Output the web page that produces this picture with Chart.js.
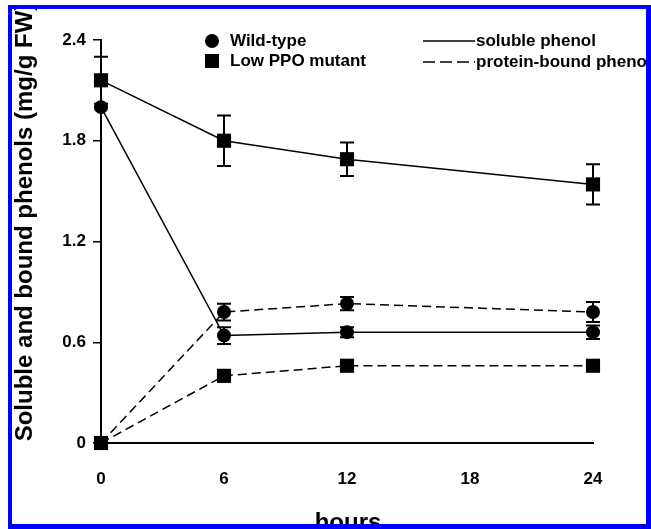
<!DOCTYPE html>
<html>
<head>
<meta charset="utf-8">
<script src="https://cdn.jsdelivr.net/npm/chart.js@4"></script>
<style>
  html, body { margin: 0; padding: 0; background: #fff; }
  #wrap { width: 651px; height: 529px; }
</style>
</head>
<body>
<div id="wrap"><canvas id="chart" width="651" height="529"></canvas></div>
<script>
// hours after treatment
var hours = [0, 6, 12, 24];
var xTicks = [0, 6, 12, 18, 24];
var yTicks = [0, 0.6, 1.2, 1.8, 2.4];

// soluble phenol (mg/g FW)
var wtSoluble = [2.00, 0.64, 0.66, 0.66];
var wtSolubleErr = [0, 0.05, 0.03, 0.04];
var mutSoluble = [2.16, 1.80, 1.69, 1.54];
var mutSolubleErr = [0.14, 0.15, 0.10, 0.12];

// protein-bound phenol (mg/g FW)
var wtBound = [0, 0.78, 0.83, 0.78];
var wtBoundErr = [0, 0.05, 0.04, 0.06];
var mutBound = [0, 0.40, 0.46, 0.46];
var mutBoundErr = [0, 0, 0, 0];

var FONT = "'Liberation Sans', Arial, Helvetica, sans-serif";

function points(vals){
    var out = [];
    for (var i = 0; i < hours.length; i++) {
        out.push({x: hours[i], y: vals[i]});
    }
    return out;
}

function series(label, vals, errs, style, dashed){
    return {
        label: label,
        data: points(vals),
        errors: errs,
        clip: false,
        borderColor: "#000",
        backgroundColor: "#000",
        borderWidth: 1.5,
        borderDash: dashed ? [9, 5] : [],
        pointStyle: style,
        pointRadius: style === "rect" ? 10 : 7,
        pointBorderWidth: 0,
        pointBackgroundColor: "#000",
        tension: 0,
        fill: false
    };
}

// vertical error bars with caps, drawn under the markers
var errorBars = {
    id: "errorBars",
    beforeDatasetsDraw: function(chart){
        var ctx = chart.ctx;
        var xs = chart.scales.x, ys = chart.scales.y;
        ctx.save();
        ctx.strokeStyle = "#000";
        ctx.lineWidth = 2;
        chart.data.datasets.forEach(function(ds){
            ds.data.forEach(function(p, i){
                var e = ds.errors[i];
                if (!e) return;
                var px = xs.getPixelForValue(p.x);
                var top = ys.getPixelForValue(p.y + e);
                var bot = ys.getPixelForValue(p.y - e);
                ctx.beginPath();
                ctx.moveTo(px, top); ctx.lineTo(px, bot);
                ctx.moveTo(px - 7, top); ctx.lineTo(px + 7, top);
                ctx.moveTo(px - 7, bot); ctx.lineTo(px + 7, bot);
                ctx.stroke();
            });
        });
        ctx.restore();
    }
};

// legend, axis titles and the blue frame
var decorations = {
    id: "decorations",
    afterDraw: function(chart){
        var ctx = chart.ctx;
        ctx.save();

        // marker legend
        ctx.fillStyle = "#000";
        ctx.beginPath();
        ctx.arc(212, 41, 7, 0, Math.PI * 2);
        ctx.fill();
        ctx.fillRect(205, 54, 14, 14);
        ctx.font = "bold 17px " + FONT;
        ctx.textBaseline = "middle";
        ctx.textAlign = "left";
        ctx.fillText("Wild-type", 230, 41);
        ctx.fillText("Low PPO mutant", 230, 61);

        // line legend
        ctx.strokeStyle = "#000";
        ctx.lineWidth = 1.5;
        ctx.beginPath();
        ctx.moveTo(423, 41); ctx.lineTo(475, 41);
        ctx.stroke();
        ctx.setLineDash([12, 5]);
        ctx.beginPath();
        ctx.moveTo(423, 62); ctx.lineTo(475, 62);
        ctx.stroke();
        ctx.setLineDash([]);
        ctx.fillText("soluble phenol", 476, 41);
        ctx.fillText("protein-bound phenol", 476, 62);

        // axis titles
        ctx.font = "bold 24px " + FONT;
        ctx.textAlign = "center";
        ctx.textBaseline = "alphabetic";
        ctx.fillText("hours", 348, 530);
        ctx.translate(32, 222);
        ctx.rotate(-Math.PI / 2);
        ctx.fillText("Soluble and bound phenols (mg/g FW)", 0, 0);
        ctx.setTransform(1, 0, 0, 1, 0, 0);

        // white margin then blue frame
        ctx.fillStyle = "#fff";
        ctx.fillRect(0, 0, 651, 5);
        ctx.fillRect(0, 0, 8, 529);
        ctx.fillStyle = "#0000ff";
        ctx.fillRect(8, 5, 643, 4);
        ctx.fillRect(8, 5, 4, 524);
        ctx.fillRect(646, 5, 5, 524);
        ctx.fillRect(8, 524, 643, 5);
        ctx.restore();
    }
};

var chartData = {
    datasets: [
        series("Wild-type soluble phenol", wtSoluble, wtSolubleErr, "circle", false),
        series("Low PPO mutant soluble phenol", mutSoluble, mutSolubleErr, "rect", false),
        series("Wild-type protein-bound phenol", wtBound, wtBoundErr, "circle", true),
        series("Low PPO mutant protein-bound phenol", mutBound, mutBoundErr, "rect", true)
    ]
};

var chartOptions = {
    responsive: false,
    animation: false,
    layout: { padding: { top: 40, right: 58, left: 0, bottom: 0 } },
    plugins: {
        legend: { display: false },
        tooltip: { enabled: false }
    },
    scales: {
        x: {
            type: "linear",
            min: 0,
            max: 24,
            afterFit: function(s){ s.height = 86; },
            afterBuildTicks: function(s){
                s.ticks = xTicks.map(function(v){ return {value: v}; });
            },
            grid: { display: false, drawTicks: false },
            border: { display: true, color: "#000", width: 2 },
            ticks: {
                color: "#000",
                padding: 26,
                font: { family: FONT, size: 17, weight: "bold" }
            }
        },
        y: {
            min: 0,
            max: 2.4,
            afterFit: function(s){ s.width = 101; },
            afterBuildTicks: function(s){
                s.ticks = yTicks.map(function(v){ return {value: v}; });
            },
            grid: {
                display: true,
                drawOnChartArea: false,
                drawTicks: true,
                tickLength: 8,
                color: "#000",
                lineWidth: 1.5
            },
            border: { display: true, color: "#000", width: 2 },
            ticks: {
                color: "#000",
                padding: 7,
                font: { family: FONT, size: 17, weight: "bold" },
                callback: function(v){ return v === 0 ? "0" : v.toFixed(1); }
            }
        }
    }
};

new Chart(document.getElementById("chart").getContext("2d"), {
    type: "line",
    data: chartData,
    options: chartOptions,
    plugins: [errorBars, decorations]
});
</script>
</body>
</html>
